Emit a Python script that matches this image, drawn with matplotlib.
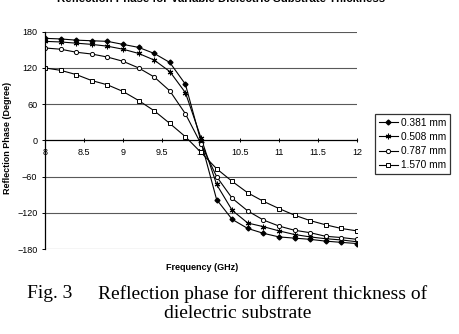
import matplotlib
matplotlib.use('Agg')
import matplotlib.pyplot as plt

plt.rcParams['font.family'] = ['Liberation Sans', 'DejaVu Sans']

# frequency points (GHz)
freq = [8.0, 8.2, 8.4, 8.6, 8.8, 9.0, 9.2, 9.4, 9.6, 9.8, 10.0,
        10.2, 10.4, 10.6, 10.8, 11.0, 11.2, 11.4, 11.6, 11.8, 12.0]

# reflection phase (degree) for each substrate thickness
ph_0381 = [169, 168, 166, 165, 164, 159, 154, 144, 129, 93, -2,
           -98, -131, -146, -154, -160, -162, -164, -167, -169, -171]
ph_0508 = [164, 163, 161, 159, 156, 151, 144, 133, 114, 79, 4,
           -73, -116, -137, -143, -150, -156, -160, -163, -165, -168]
ph_0787 = [153, 151, 146, 143, 138, 131, 120, 105, 82, 44, -6,
           -60, -96, -117, -132, -142, -149, -153, -159, -161, -164]
ph_1570 = [120, 116, 109, 99, 92, 81, 66, 49, 28, 6, -20,
           -47, -68, -87, -101, -113, -124, -133, -140, -146, -150]

labels = ['0.381 mm', '0.508 mm', '0.787 mm', '1.570 mm']
xticks = [8, 8.5, 9, 9.5, 10, 10.5, 11, 11.5, 12]
xticklabels = ['8', '8.5', '9', '9.5', '10', '10.5', '11', '11.5', '12']
yticks = [-180, -120, -60, 0, 60, 120, 180]

fig = plt.figure(figsize=(4.6, 3.34), dpi=100)
ax = fig.add_axes([45/460, 1-249/334, 312/460, 217.3/334])

kw = dict(color='black', lw=0.8)
ax.plot(freq, ph_0381, marker='D', ms=2.5, mfc='black', mec='black', label=labels[0], **kw)
ax.plot(freq, ph_0508, marker=(6, 2, 0), ms=4, mec='black', mew=0.8, label=labels[1], **kw)
ax.plot(freq, ph_0787, marker='o', ms=3, mfc='white', mec='black', mew=0.7, label=labels[2], **kw)
ax.plot(freq, ph_1570, marker='s', ms=3, mfc='white', mec='black', mew=0.7, label=labels[3], **kw)

ax.set_xlim(8, 12)
ax.set_ylim(-180, 180)
ax.set_xticks(xticks)
ax.set_xticklabels(xticklabels)
ax.set_yticks(yticks)
for y in yticks:
    if y != 0:
        ax.axhline(y, color='0.35', lw=0.8, zorder=0)

ax.spines['top'].set_visible(False)
ax.spines['right'].set_visible(False)
ax.spines['bottom'].set_position(('data', 0))
ax.spines['bottom'].set_linewidth(0.9)
ax.spines['left'].set_linewidth(0.9)
ax.tick_params(axis='x', direction='inout', length=3, width=0.7, labelsize=6.5, pad=4)
ax.tick_params(axis='y', direction='out', length=2.5, width=0.7, labelsize=6.5, pad=3)

fig.text(8/460, 1-138/334, 'Reflection Phase (Degree)', rotation=90, ha='center', va='center',
         fontsize=6.5, fontweight='bold')
fig.text(202/460, 1-267/334, 'Frequency (GHz)', ha='center', va='center',
         fontsize=6.5, fontweight='bold')
fig.text(221/460, 1-(-1)/334, 'Reflection Phase for Variable Dielectric Substrate Thickness',
         ha='center', va='center', fontsize=8.2, fontweight='bold')

leg = ax.legend(loc='upper left', bbox_to_anchor=(375/460, 1-114/334),
                bbox_transform=fig.transFigure, fontsize=7.3, frameon=True,
                fancybox=False, edgecolor='black', labelspacing=0.42,
                handlelength=1.9, handletextpad=0.3, borderpad=0.35, borderaxespad=0)
leg.get_frame().set_linewidth(0.9)

fig.text(27/460, 1-294/334, 'Fig. 3', ha='left', va='center', fontsize=14,
         family='Liberation Serif')
fig.text(98/460, 1-294/334, 'Reflection phase for different thickness of', ha='left',
         va='center', fontsize=14, family='Liberation Serif')
fig.text(238/460, 1-314/334, 'dielectric substrate', ha='center', va='center', fontsize=14,
         family='Liberation Serif')

fig.savefig('out.png', dpi=100)
